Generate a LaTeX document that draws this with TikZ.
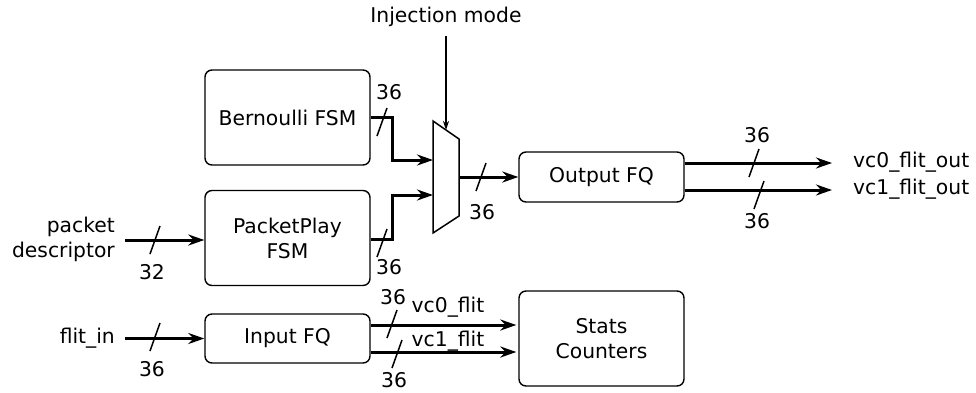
\documentclass[tikz,border=0pt]{standalone}
\usepackage{fontspec}
\setmainfont{DejaVu Sans}
\usetikzlibrary{arrows.meta}
\begin{document}
\begin{tikzpicture}[x=1pt,y=-1pt,
  every node/.style={font=\fontsize{20.3}{25}\selectfont},
  blk/.style={draw, line width=1.4pt, rounded corners=7pt, align=center,
    minimum width=165pt, inner sep=0pt},
  bus/.style={line width=3pt, -{Stealth[length=16pt,width=11pt]}},
  ctl/.style={line width=1.5pt, -{Stealth[length=9pt,width=6pt]}},
  txt/.style={inner sep=0pt},
  slash/.pic={\draw[line width=1.5pt] (-5,14) -- (5,-14);}]
\useasboundingbox (0,0) rectangle (976,392);

% functional blocks
\node[blk, minimum height=95pt] (bern) at (287.5,117.5) {Bernoulli FSM};
\node[blk, minimum height=95pt] (pp) at (287.5,238) {PacketPlay\\FSM};
\node[blk, minimum height=49pt] (ifq) at (287.5,338.5) {Input FQ};
\node[blk, minimum height=50pt] (ofq) at (601.5,177) {Output FQ};
\node[blk, minimum height=95pt] (stats) at (601.5,338.5) {Stats\\Counters};

% multiplexer
\draw[line width=1.5pt] (433,121) -- (459,139) -- (459,216) -- (433,233) -- cycle;
\coordinate (muxA) at (433,160);
\coordinate (muxB) at (433,195);
\coordinate (muxSel) at (446,130);
\coordinate (muxOut) at (459,177);

% external labels
\node[txt] (inj) at (446,17) {Injection mode};
\node[txt, align=right, anchor=east, inner xsep=10pt] (pd) at (125,239) {packet\\descriptor};
\node[txt, anchor=east, inner xsep=10pt] (fin) at (125,338) {flit\_in};
\node[txt, anchor=west] (o0) at (853,162) {vc0\_flit\_out};
\node[txt, anchor=west] (o1) at (853,189) {vc1\_flit\_out};
\coordinate (o0end) at (832,163);
\coordinate (o1end) at (832,190);

% select line
\draw[ctl] (muxSel |- 0,36) -- (muxSel);

% data buses
\draw[bus] (pd.east |- 0,240) -- (pp.west |- 0,240);
\draw[bus] (fin.east |- ifq.west) -- (ifq.west);
\draw[bus] (bern.east) -- ++(22,0) |- (muxA);
\draw[bus] ([yshift=-1.5pt]pp.east) -- ++(22,0) |- (muxB);
\draw[bus] (muxOut) -- (ofq.west);
\draw[bus] ([yshift=14pt]ofq.east) -- (o0end);
\draw[bus] ([yshift=-13pt]ofq.east) -- (o1end);
\draw[bus] ([yshift=13.5pt]ifq.east) -- ([xshift=-2pt]stats.west |- 0,325);
\draw[bus] ([yshift=-13.5pt]ifq.east) -- ([xshift=-2pt]stats.west |- 0,352);

% bus widths
\pic at (382,122) {slash};
\node[txt] at (389,92) {36};
\pic at (382,243) {slash};
\node[txt] at (389,267) {36};
\pic at (481,177) {slash};
\node[txt] at (482,212) {36};
\pic at (754,163) {slash};
\node[txt] at (757,135) {36};
\pic at (759,195) {slash};
\node[txt] at (757,221) {36};
\pic at (155,240) {slash};
\node[txt] at (152,272) {32};
\pic at (155,337) {slash};
\node[txt] at (152,369) {36};
\pic at (392,324) {slash};
\node[txt] at (393,297) {36};
\pic at (397,354) {slash};
\node[txt] at (394,380) {36};
\node[txt] at (448,307) {vc0\_flit};
\node[txt] at (448,341) {vc1\_flit};
\end{tikzpicture}
\end{document}
